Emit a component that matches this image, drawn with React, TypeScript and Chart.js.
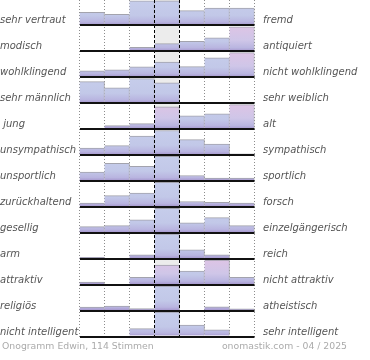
import React, { useEffect, useRef } from 'react';
import { Chart, registerables } from 'chart.js';

Chart.register(...registerables);

// 7-point scale positions (columns)
const scalePoints = ['1', '2', '3', '4', '5', '6', '7'];

const leftLabels = [
  'sehr vertraut', 'modisch', 'wohlklingend', 'sehr männlich', ' jung', 'unsympathisch',
  'unsportlich', 'zurückhaltend', 'gesellig', 'arm', 'attraktiv', 'religiös', 'nicht intelligent',
];
const rightLabels = [
  'fremd', 'antiquiert', 'nicht wohlklingend', 'sehr weiblich', 'alt', 'sympathisch',
  'sportlich', 'forsch', 'einzelgängerisch', 'reich', 'nicht attraktiv', 'atheistisch', 'sehr intelligent',
];

// bar heights per row, percent of the full row height
const vertrautFremd = [53, 45, 100, 100, 60, 70, 70];
const modischAntiquiert = [0, 0, 16, 31, 41, 55, 100];
const wohlklingend = [26, 30, 42, 62, 43, 79, 100];
const maennlichWeiblich = [88, 62, 100, 83, 0, 0, 0];
const jungAlt = [0, 14, 22, 91, 54, 62, 100];
const sympathisch = [28, 38, 77, 100, 63, 44, 5];
const sportlich = [36, 72, 60, 100, 22, 12, 12];
const zurueckhaltendForsch = [15, 46, 56, 100, 22, 18, 15];
const geselligEinzelgaenger = [25, 29, 53, 100, 41, 62, 29];
const armReich = [6, 0, 16, 100, 36, 16, 0];
const attraktiv = [10, 0, 30, 80, 55, 100, 30];
const religioesAtheistisch = [14, 18, 8, 100, 0, 15, 7];
const intelligent = [0, 0, 32, 100, 47, 27, 0];

const rows = [
  vertrautFremd, modischAntiquiert, wohlklingend, maennlichWeiblich, jungAlt, sympathisch,
  sportlich, zurueckhaltendForsch, geselligEinzelgaenger, armReich, attraktiv, religioesAtheistisch, intelligent,
];

// highlighted (pink) bars: [row, column]
const pinkBars = [[1, 6], [2, 6], [4, 3], [4, 6], [10, 3], [10, 5]];

const footerLeft = 'Onogramm Edwin, 114 Stimmen';
const footerRight = 'onomastik.com - 04 / 2025';

const N = rows.length;
const FULL = 0.945;
const Y_MAX = 12.977;
const LABEL_OFFSET = 0.175;
const FONT = '"DejaVu Sans", sans-serif';

const baseOf = (r: number) => N - 1 - r;

function barFill(c: any) {
  const chart = c.chart;
  if (!chart.chartArea || c.dataIndex === undefined || !chart.scales.y) return '#c4cbe9';
  const r = c.datasetIndex;
  const ys = chart.scales.y;
  const top = ys.getPixelForValue(baseOf(r) + FULL);
  const bot = ys.getPixelForValue(baseOf(r));
  const pink = pinkBars.some(([pr, pc]) => pr === r && pc === c.dataIndex);
  const g = chart.ctx.createLinearGradient(0, top, 0, bot);
  if (pink) {
    g.addColorStop(0, '#ddc4e5');
    g.addColorStop(0.55, '#cfc6e8');
  } else {
    g.addColorStop(0, '#c6cdeb');
    g.addColorStop(0.6, '#c2c8e8');
  }
  g.addColorStop(0.86, '#b9b5e0');
  g.addColorStop(1, '#a494cc');
  return g;
}

const noPad = (s: any) => {
  s.paddingTop = 0;
  s.paddingBottom = 0;
  s.paddingLeft = 0;
  s.paddingRight = 0;
};

const centerBand = {
  id: 'centerBand',
  beforeDatasetsDraw(chart: any) {
    const x = chart.scales.x;
    const a = chart.chartArea;
    const l = x.getPixelForValue(2.5);
    const r = x.getPixelForValue(3.5);
    const ctx = chart.ctx;
    ctx.save();
    ctx.fillStyle = '#ececec';
    ctx.fillRect(l, a.top, r - l, a.bottom - a.top);
    ctx.restore();
  },
};

const footer = {
  id: 'footer',
  afterDraw(chart: any) {
    const ctx = chart.ctx;
    ctx.save();
    ctx.font = '9.3px ' + FONT;
    ctx.fillStyle = '#ababab';
    ctx.textBaseline = 'alphabetic';
    ctx.textAlign = 'left';
    ctx.fillText(footerLeft, 2, 349);
    ctx.textAlign = 'right';
    ctx.fillText(footerRight, 347, 349);
    ctx.restore();
  },
};

export default function App() {
  const ref = useRef<HTMLCanvasElement>(null);

  useEffect(() => {
    if (!ref.current) return;
    const datasets = rows.map((vals, r) => ({
      data: vals.map((v) => [baseOf(r), baseOf(r) + (v / 100) * FULL]),
      xAxisID: 'x',
      yAxisID: 'y',
      grouped: false,
      barPercentage: 1,
      categoryPercentage: 1,
      borderSkipped: false,
      borderWidth: { top: 1, right: 1, bottom: 0, left: 0 },
      borderColor: '#a3a3ad',
      backgroundColor: barFill,
    }));

    const labelFont = { family: FONT, size: 10, style: 'italic' as const };

    const chart = new Chart(ref.current, {
      type: 'bar',
      data: { labels: scalePoints, datasets: datasets as any },
      plugins: [centerBand, footer],
      options: {
        animation: false,
        responsive: true,
        maintainAspectRatio: false,
        layout: { padding: 0 },
        plugins: { legend: { display: false }, tooltip: { enabled: false }, title: { display: false } },
        scales: {
          x: {
            type: 'category',
            labels: scalePoints,
            position: 'bottom',
            offset: true,
            grid: {
              offset: true,
              drawTicks: false,
              lineWidth: 1,
              color: (c: any) => (c.index === 3 || c.index === 4 ? 'rgba(0,0,0,0)' : '#8c8c8c'),
            },
            border: { display: false, dash: [1, 2] },
            ticks: { display: false },
            afterFit: (s: any) => { s.height = 23.5; noPad(s); },
          },
          x2: {
            type: 'category',
            labels: scalePoints,
            position: 'top',
            offset: true,
            z: 1,
            grid: {
              offset: true,
              drawTicks: false,
              lineWidth: 1,
              z: 1,
              color: (c: any) => (c.index === 3 || c.index === 4 ? '#000000' : 'rgba(0,0,0,0)'),
            },
            border: { display: false, dash: [3, 2] },
            ticks: { display: false },
            afterFit: (s: any) => { s.height = 0; noPad(s); },
          },
          y: {
            type: 'linear',
            position: 'left',
            min: 0,
            max: Y_MAX,
            bounds: 'data',
            z: 1,
            afterBuildTicks: (s: any) => { s.ticks = rows.map((_, r) => ({ value: baseOf(r) })); },
            grid: { color: '#111111', lineWidth: 2, drawTicks: false, z: 1 },
            border: { display: false },
            ticks: { display: false },
            afterFit: (s: any) => { s.width = 0; noPad(s); },
          },
          yl: {
            type: 'linear',
            position: 'left',
            min: 0,
            max: Y_MAX,
            bounds: 'data',
            afterBuildTicks: (s: any) => { s.ticks = rows.map((_, r) => ({ value: baseOf(r) + LABEL_OFFSET })); },
            grid: { display: false, drawTicks: false },
            border: { display: false },
            ticks: {
              autoSkip: false,
              crossAlign: 'far',
              padding: 0,
              color: '#555555',
              font: labelFont,
              callback: (_v: any, i: number) => leftLabels[i],
            },
            afterFit: (s: any) => { s.width = 79.5; noPad(s); },
          },
          yr: {
            type: 'linear',
            position: 'right',
            min: 0,
            max: Y_MAX,
            bounds: 'data',
            afterBuildTicks: (s: any) => { s.ticks = rows.map((_, r) => ({ value: baseOf(r) + LABEL_OFFSET })); },
            grid: { display: false, drawTicks: false },
            border: { display: false },
            ticks: {
              autoSkip: false,
              crossAlign: 'near',
              padding: 8.5,
              color: '#555555',
              font: labelFont,
              callback: (_v: any, i: number) => rightLabels[i],
            },
            afterFit: (s: any) => { s.width = 115.5; noPad(s); },
          },
        },
      } as any,
    });
    return () => chart.destroy();
  }, []);

  return (
    <div style={{ position: 'fixed', left: 0, top: 0, width: 370, height: 360, background: '#fff' }}>
      <canvas ref={ref} />
    </div>
  );
}
